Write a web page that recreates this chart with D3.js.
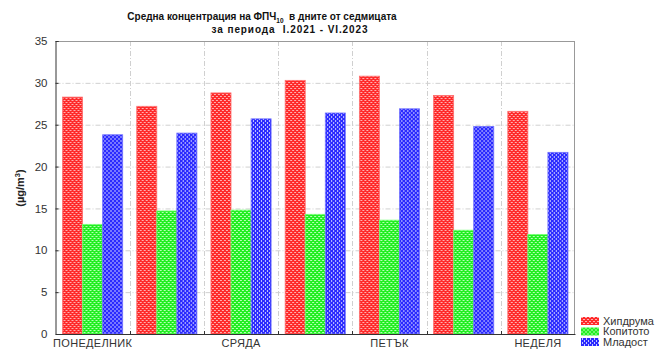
<!DOCTYPE html>
<html>
<head>
<meta charset="utf-8">
<script src="https://cdn.jsdelivr.net/npm/d3@7"></script>
<style>
  html, body { margin: 0; padding: 0; background: #fff; }
  svg { display: block; font-family: "Liberation Sans", Arial, sans-serif; }
</style>
</head>
<body>
<svg id="chart" width="666" height="349"></svg>
<script>
// Average PM10 concentration by day of week, three stations
const days = ["ПОНЕДЕЛНИК", "ВТОРНИК", "СРЯДА", "ЧЕТВЪРТЪК", "ПЕТЪК", "СЪБОТА", "НЕДЕЛЯ"];
const shownDayLabels = ["ПОНЕДЕЛНИК", "СРЯДА", "ПЕТЪК", "НЕДЕЛЯ"];
const stations = ["Хипдрума", "Копитото", "Младост"];
const hipodruma = [28.3, 27.2, 28.8, 30.3, 30.8, 28.5, 26.6];
const kopitoto  = [13.1, 14.7, 14.8, 14.3, 13.6, 12.4, 11.9];
const mladost   = [23.8, 24.0, 25.7, 26.4, 26.9, 24.8, 21.7];
const yTicks = [0, 5, 10, 15, 20, 25, 30, 35];

const seriesValues = [hipodruma, kopitoto, mladost];
const rows = days.map((d, i) => ({ day: d, values: stations.map((s, j) => ({ station: s, value: seriesValues[j][i] })) }));

const svg = d3.select("#chart");
const plot = { left: 55.5, right: 575, top: 41, bottom: 334 };

const x0 = d3.scaleBand().domain(days).range([plot.left, plot.right]).paddingInner(0).paddingOuter(0);
const x1 = d3.scaleBand().domain(stations).range([0, x0.bandwidth()]).paddingInner(0).paddingOuter(0.35);
const y = d3.scaleLinear().domain([0, 35]).range([plot.bottom, plot.top]);

// Fill patterns for the three stations
const defs = svg.append("defs");
function dotPattern(id, base, light) {
  const p = defs.append("pattern").attr("id", id).attr("width", 4).attr("height", 4)
    .attr("patternUnits", "userSpaceOnUse");
  p.append("rect").attr("width", 4).attr("height", 4).attr("fill", base);
  p.append("rect").attr("x", 0).attr("y", 0).attr("width", 2).attr("height", 1).attr("fill", light);
  p.append("rect").attr("x", 2).attr("y", 2).attr("width", 2).attr("height", 1).attr("fill", light);
}
dotPattern("pat0", "#ff2a2a", "#ffb0b0");
dotPattern("pat1", "#22ee22", "#b8ffb8");
(function () {
  const p = defs.append("pattern").attr("id", "pat2").attr("width", 4).attr("height", 4)
    .attr("patternUnits", "userSpaceOnUse");
  p.append("rect").attr("width", 4).attr("height", 4).attr("fill", "#2a2aff");
  p.append("rect").attr("x", 1).attr("y", 0).attr("width", 1).attr("height", 2).attr("fill", "#c8c8ff");
  p.append("rect").attr("x", 3).attr("y", 2).attr("width", 1).attr("height", 2).attr("fill", "#c8c8ff");
})();
const color = d3.scaleOrdinal().domain(stations).range(["url(#pat0)", "url(#pat1)", "url(#pat2)"]);
const edge = d3.scaleOrdinal().domain(stations).range(["#ff7070", "#70ff70", "#7070ff"]);

// Grid lines
const grid = svg.append("g");
grid.selectAll("line.h").data(yTicks.filter(t => t > 0 && t < 35)).join("line")
  .attr("x1", plot.left).attr("x2", plot.right)
  .attr("y1", d => y(d) + 0.5).attr("y2", d => y(d) + 0.5)
  .attr("stroke", "#d0d0d0").attr("stroke-width", 1).attr("stroke-dasharray", "5,2,1,2");
grid.selectAll("line.v").data(days.slice(1)).join("line")
  .attr("x1", d => Math.round(x0(d)) + 0.5).attr("x2", d => Math.round(x0(d)) + 0.5)
  .attr("y1", plot.top).attr("y2", plot.bottom)
  .attr("stroke", "#d0d0d0").attr("stroke-width", 1).attr("stroke-dasharray", "5,2,1,2");

// Bars
const groups = svg.append("g").selectAll("g").data(rows).join("g")
  .attr("transform", d => `translate(${x0(d.day)},0)`);
groups.selectAll("rect").data(d => d.values).join("rect")
  .attr("x", d => x1(d.station))
  .attr("y", d => y(d.value))
  .attr("width", x1.bandwidth())
  .attr("height", d => y(0) - y(d.value))
  .attr("fill", d => color(d.station))
  .attr("stroke", d => edge(d.station))
  .attr("stroke-width", 0.8);

// Frame
svg.append("line").attr("x1", plot.left).attr("x2", plot.right).attr("y1", plot.top + 0.5).attr("y2", plot.top + 0.5)
  .attr("stroke", "#999");
svg.append("line").attr("x1", plot.right - 0.5).attr("x2", plot.right - 0.5).attr("y1", plot.top).attr("y2", plot.bottom)
  .attr("stroke", "#999");

// Y axis
const yAxis = svg.append("g").attr("transform", `translate(${plot.left},0)`)
  .call(d3.axisLeft(y).tickValues(yTicks).tickSize(-3).tickPadding(8).tickFormat(d3.format("d")));
yAxis.select(".domain").attr("stroke", "#333");
yAxis.selectAll(".tick line").attr("stroke", "#333");
yAxis.selectAll("text").attr("font-size", 11.5).attr("fill", "#333").attr("font-family", "Liberation Sans, Arial, sans-serif");

// X axis
const xAxis = svg.append("g").attr("transform", `translate(0,${plot.bottom})`)
  .call(d3.axisBottom(x0).tickSize(0).tickPadding(5).tickFormat(d => shownDayLabels.includes(d) ? d : ""));
xAxis.select(".domain").attr("stroke", "#333");
xAxis.selectAll("text").attr("font-size", 11).attr("fill", "#333").attr("letter-spacing", 0.3)
  .attr("font-family", "Liberation Sans, Arial, sans-serif");
// Boundary tick marks between day groups
svg.append("g").selectAll("line").data(days.slice(1)).join("line")
  .attr("x1", d => Math.round(x0(d)) + 0.5).attr("x2", d => Math.round(x0(d)) + 0.5)
  .attr("y1", plot.bottom).attr("y2", plot.bottom - 3)
  .attr("stroke", "#333");

// Y label
svg.append("text")
  .attr("transform", "translate(24,188) rotate(-90)")
  .attr("text-anchor", "middle")
  .attr("font-size", 11).attr("font-weight", "bold").attr("fill", "#222")
  .call(t => {
    t.append("tspan").text("(µg/m");
    t.append("tspan").attr("font-size", 7.5).attr("dy", -4).text("3");
    t.append("tspan").attr("dy", 4).text(")");
  });

// Title
const title = svg.append("text").attr("text-anchor", "middle").attr("font-weight", "bold")
  .attr("font-size", 10).attr("fill", "#111");
title.append("tspan").attr("x", 262).attr("y", 20).text("Средна концентрация на ФПЧ");
title.append("tspan").attr("font-size", 6.5).attr("dy", 3).text("10");
title.append("tspan").attr("dy", -3).attr("xml:space", "preserve").text("  в дните от седмицата");
svg.append("text").attr("x", 290).attr("y", 33).attr("text-anchor", "middle").attr("font-weight", "bold")
  .attr("font-size", 10).attr("fill", "#111").attr("letter-spacing", 0.9).attr("xml:space", "preserve")
  .text("за периода  I.2021 - VI.2023");

// Legend
const legend = svg.append("g").attr("transform", "translate(581,317)");
const li = legend.selectAll("g").data(stations).join("g")
  .attr("transform", (d, i) => `translate(0,${i * 10.5})`);
li.append("rect").attr("width", 18).attr("height", 8).attr("fill", d => color(d));
li.append("text").attr("x", 22).attr("y", 7.5).attr("font-size", 11).attr("fill", "#333").text(d => d);
</script>
</body>
</html>
